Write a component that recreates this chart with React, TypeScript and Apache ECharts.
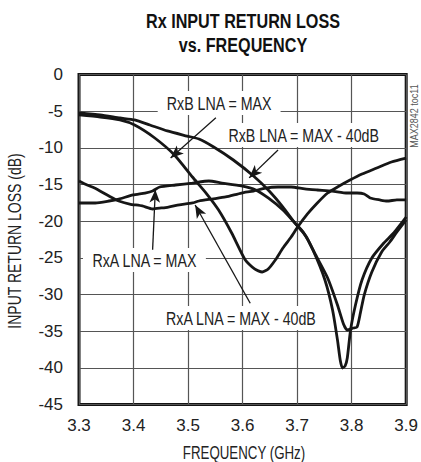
import React, { useEffect, useRef } from "react";
import * as echarts from "echarts";

const SANS = "'Liberation Sans', Arial, sans-serif";

const titleLines = ["Rx INPUT RETURN LOSS", "vs. FREQUENCY"];
const xAxisName = "FREQUENCY (GHz)";
const yAxisName = "INPUT RETURN LOSS (dB)";
const sideNote = "MAX2842 toc11";

// [GHz, dB]
const rxbMax: [number, number][] = [
  [3.3, -5.52], [3.339, -5.8], [3.375, -6.2], [3.402, -6.89], [3.439, -8.66], [3.475, -10.98],
  [3.508, -13.98], [3.533, -16.16], [3.556, -18.48], [3.58, -21.61], [3.605, -25.3], [3.622, -26.52],
  [3.636, -26.93], [3.647, -26.52], [3.66, -25.3], [3.674, -23.66], [3.689, -22.16], [3.701, -20.8],
  [3.719, -19.02], [3.737, -17.52], [3.756, -16.16], [3.774, -15.34], [3.797, -14.39], [3.819, -13.57],
  [3.846, -12.75], [3.873, -11.93], [3.9, -11.39],
];
const rxbMax40: [number, number][] = [
  [3.3, -5.25], [3.339, -5.52], [3.375, -5.93], [3.402, -6.2], [3.43, -6.89], [3.462, -7.7],
  [3.498, -8.39], [3.52, -8.8], [3.547, -9.89], [3.583, -11.66], [3.62, -13.84], [3.647, -15.75],
  [3.674, -18.07], [3.696, -20.25], [3.716, -22.02], [3.734, -24.61], [3.756, -27.75], [3.774, -31.43],
  [3.785, -34.02], [3.792, -34.84], [3.803, -34.57], [3.81, -34.43], [3.816, -32.52], [3.823, -30.07],
  [3.837, -26.93], [3.855, -24.2], [3.87, -22.84], [3.883, -21.48], [3.9, -19.84],
];
const rxaMax: [number, number][] = [
  [3.3, -17.52], [3.33, -17.52], [3.355, -17.25], [3.373, -16.98], [3.399, -16.43], [3.421, -16.16],
  [3.435, -15.89], [3.448, -15.34], [3.477, -15.07], [3.508, -14.8], [3.538, -14.52], [3.562, -14.8],
  [3.598, -15.2], [3.624, -15.75], [3.647, -16.84], [3.674, -18.48], [3.696, -20.25], [3.711, -21.48],
  [3.729, -23.93], [3.751, -28.02], [3.765, -32.11], [3.774, -36.2], [3.779, -38.93], [3.783, -40.02],
  [3.788, -39.75], [3.792, -38.66], [3.798, -34.84], [3.807, -31.43], [3.819, -28.02], [3.837, -25.02],
  [3.859, -22.98], [3.877, -21.61], [3.9, -19.43],
];
const rxaMax40: [number, number][] = [
  [3.3, -14.52], [3.315, -15.07], [3.332, -15.61], [3.355, -16.57], [3.373, -17.25], [3.393, -17.66],
  [3.416, -17.93], [3.435, -18.34], [3.451, -18.2], [3.464, -18.07], [3.484, -17.79], [3.508, -17.52],
  [3.52, -17.25], [3.544, -16.98], [3.569, -16.7], [3.598, -16.16], [3.62, -15.89], [3.642, -15.48],
  [3.665, -15.34], [3.689, -15.34], [3.714, -15.61], [3.737, -15.75], [3.764, -15.89], [3.792, -16.16],
  [3.81, -16.16], [3.823, -16.3], [3.834, -16.84], [3.852, -17.11], [3.865, -17.25], [3.883, -17.11],
  [3.9, -17.11],
];

// annotation labels: text, anchor [GHz, dB]
const labelTexts = ["RxB LNA = MAX", "RxB LNA = MAX - 40dB", "RxA LNA = MAX", "RxA LNA = MAX - 40dB"];
const labelAnchors: [number, number][] = [[3.557, -3.9], [3.712, -8.25], [3.42, -25.3], [3.597, -33.2]];
// arrows: from -> tip [GHz, dB]
const arrowFrom: [number, number][] = [[3.551, -5.9], [3.665, -10.3], [3.435, -23.9], [3.614, -31.2]];
const arrowTip: [number, number][] = [[3.468, -11.4], [3.612, -14.1], [3.44, -15.7], [3.513, -17.8]];

export default function App() {
  const ref = useRef<HTMLDivElement>(null);
  useEffect(() => {
    document.body.style.margin = "0";
    const chart = echarts.init(ref.current!, null, { renderer: "svg" });
    const lineSeries = (name: string, data: [number, number][]) => ({
      name,
      type: "line",
      data,
      symbol: "none",
      smooth: 0.2,
      lineStyle: { color: "#161616", width: 2.8 },
      z: 3,
    });
    chart.setOption({
      animation: false,
      backgroundColor: "#fff",
      grid: { left: 79, right: 11, top: 74.5, bottom: 57.5, show: true, borderColor: "#141414", borderWidth: 3 },
      xAxis: {
        type: "value",
        min: 3.3,
        max: 3.9,
        interval: 0.1,
        axisLine: { show: false },
        axisTick: { show: false },
        splitLine: { show: true, lineStyle: { color: "#555", width: 1.2 } },
        axisLabel: {
          formatter: (v: number) => v.toFixed(1),
          fontFamily: SANS,
          fontSize: 17,
          color: "#222",
          margin: 12,
        },
      },
      yAxis: {
        type: "value",
        min: -45,
        max: 0,
        interval: 5,
        axisLine: { show: false },
        axisTick: { show: false },
        splitLine: { show: true, lineStyle: { color: "#555", width: 1.2 } },
        axisLabel: { fontFamily: SANS, fontSize: 17, color: "#222", margin: 16 },
      },
      series: [
        {
          ...lineSeries("RxB LNA = MAX", rxbMax),
          markLine: {
            silent: true,
            symbol: ["none", "arrow"],
            symbolSize: [8, 13],
            label: { show: false },
            lineStyle: { color: "#161616", width: 1.3, type: "solid" },
            data: arrowFrom.map((f, i) => [{ coord: f }, { coord: arrowTip[i] }]),
            z: 6,
          },
        },
        lineSeries("RxB LNA = MAX - 40dB", rxbMax40),
        lineSeries("RxA LNA = MAX", rxaMax),
        lineSeries("RxA LNA = MAX - 40dB", rxaMax40),
      ],
    });
    const labels = labelTexts.map((t, i) => {
      const [px, py] = chart.convertToPixel({ gridIndex: 0 }, labelAnchors[i]) as number[];
      return {
        type: "text",
        x: px,
        y: py,
        z: 5,
        scaleX: 0.79,
        style: {
          text: t,
          align: "center",
          verticalAlign: "middle",
          fontFamily: SANS,
          fontSize: 18,
          fill: "#222",
          backgroundColor: "#fff",
          padding: [3, 11],
        },
      };
    });
    chart.setOption({
      graphic: [
        ...titleLines.map((t, i) => ({
          type: "text",
          x: 243,
          y: 21 + i * 24,
          scaleX: 0.77,
          style: {
            text: t,
            align: "center",
            verticalAlign: "middle",
            fontFamily: SANS,
            fontWeight: "bold",
            fontSize: 21,
            fill: "#111",
          },
        })),
        {
          type: "text",
          x: 244,
          y: 453,
          scaleX: 0.76,
          style: {
            text: xAxisName,
            align: "center",
            verticalAlign: "middle",
            fontFamily: SANS,
            fontSize: 17.5,
            fill: "#222",
          },
        },
        {
          type: "text",
          x: 15,
          y: 241,
          rotation: Math.PI / 2,
          scaleX: 0.8,
          style: {
            text: yAxisName,
            align: "center",
            verticalAlign: "middle",
            fontFamily: SANS,
            fontSize: 17.5,
            fill: "#222",
          },
        },
        {
          type: "text",
          x: 414,
          y: 116,
          rotation: Math.PI / 2,
          scaleX: 0.9,
          style: {
            text: sideNote,
            align: "center",
            verticalAlign: "middle",
            fontFamily: SANS,
            fontSize: 10,
            fill: "#555",
          },
        },
        ...labels,
      ],
    });
    return () => chart.dispose();
  }, []);
  return <div ref={ref} style={{ width: 421, height: 462 }} />;
}
